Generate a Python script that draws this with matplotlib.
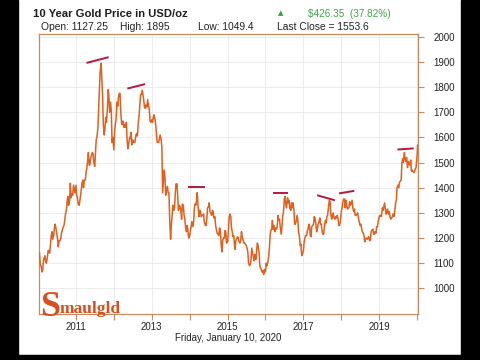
#!/usr/bin/env python3

import pandas as pd
import matplotlib
matplotlib.use("Agg")
import matplotlib.pyplot as plt
from matplotlib.patches import Rectangle

plt.rcParams["font.family"] = ["Liberation Sans", "DejaVu Sans"]

# gold price (USD/oz), four readings a month: days 1, 8, 15, 22
p2010 = [1100, 1135, 1140, 1095, 1085, 1065, 1075, 1110, 1120, 1130, 1105, 1100,
         1125, 1150, 1150, 1140, 1175, 1210, 1225, 1195, 1215, 1240, 1255, 1240,
         1215, 1195, 1165, 1190, 1190, 1200, 1220, 1230, 1245, 1250, 1270, 1295,
         1310, 1345, 1365, 1330, 1350, 1418, 1360, 1375, 1370, 1410, 1395, 1380]
p2011 = [1410, 1370, 1360, 1335, 1330, 1350, 1370, 1395, 1420, 1430, 1400, 1430,
         1430, 1460, 1475, 1500, 1540, 1490, 1490, 1515, 1530, 1540, 1535, 1500,
         1485, 1540, 1590, 1600, 1640, 1720, 1790, 1860, 1895, 1830, 1760, 1650,
         1610, 1640, 1680, 1660, 1720, 1790, 1760, 1700, 1740, 1700, 1580, 1600]
p2012 = [1550, 1620, 1650, 1670, 1740, 1725, 1760, 1775, 1775, 1700, 1660, 1650,
         1665, 1640, 1650, 1640, 1660, 1590, 1555, 1570, 1600, 1595, 1620, 1570,
         1590, 1580, 1580, 1580, 1610, 1615, 1605, 1650, 1690, 1730, 1770, 1770,
         1788, 1770, 1750, 1720, 1715, 1730, 1722, 1750, 1725, 1710, 1665, 1660]
p2013 = [1670, 1660, 1680, 1690, 1670, 1650, 1610, 1580, 1580, 1580, 1595, 1610,
         1590, 1560, 1380, 1420, 1470, 1440, 1370, 1390, 1405, 1380, 1380, 1280,
         1195, 1250, 1285, 1330, 1310, 1320, 1375, 1415, 1415, 1360, 1310, 1330,
         1325, 1310, 1275, 1335, 1330, 1290, 1275, 1245, 1225, 1250, 1230, 1200]
p2014 = [1210, 1230, 1245, 1265, 1245, 1265, 1320, 1335, 1330, 1350, 1380, 1330,
         1285, 1310, 1305, 1285, 1290, 1290, 1295, 1265, 1250, 1250, 1275, 1320,
         1325, 1340, 1305, 1300, 1290, 1310, 1305, 1280, 1285, 1250, 1235, 1220,
         1215, 1210, 1240, 1235, 1170, 1145, 1190, 1200, 1200, 1230, 1225, 1180]
p2015 = [1185, 1220, 1275, 1295, 1285, 1240, 1225, 1205, 1210, 1175, 1155, 1190,
         1200, 1205, 1200, 1185, 1180, 1190, 1225, 1205, 1190, 1180, 1180, 1175,
         1170, 1160, 1145, 1100, 1090, 1095, 1115, 1160, 1135, 1120, 1110, 1135,
         1115, 1150, 1180, 1170, 1140, 1090, 1080, 1075, 1065, 1070, 1055, 1075]
p2016 = [1065, 1100, 1090, 1100, 1125, 1160, 1210, 1230, 1235, 1270, 1235, 1250,
         1225, 1240, 1235, 1240, 1290, 1270, 1275, 1245, 1215, 1245, 1290, 1300,
         1355, 1365, 1335, 1320, 1360, 1340, 1350, 1320, 1310, 1340, 1320, 1340,
         1315, 1255, 1255, 1265, 1290, 1270, 1225, 1210, 1170, 1175, 1130, 1135]
p2017 = [1150, 1185, 1200, 1210, 1210, 1230, 1235, 1255, 1250, 1210, 1205, 1245,
         1250, 1255, 1285, 1280, 1255, 1225, 1235, 1255, 1265, 1280, 1255, 1255,
         1225, 1215, 1215, 1245, 1270, 1260, 1285, 1290, 1330, 1350, 1345, 1295,
         1275, 1290, 1300, 1280, 1275, 1285, 1280, 1290, 1275, 1250, 1250, 1265]
p2018 = [1305, 1320, 1340, 1355, 1355, 1320, 1350, 1330, 1315, 1320, 1320, 1345,
         1330, 1340, 1350, 1320, 1305, 1315, 1290, 1290, 1295, 1300, 1280, 1265,
         1250, 1255, 1240, 1225, 1220, 1210, 1185, 1195, 1200, 1195, 1200, 1205,
         1190, 1190, 1225, 1230, 1235, 1215, 1215, 1225, 1220, 1245, 1245, 1265]
p2019 = [1285, 1290, 1290, 1285, 1320, 1310, 1325, 1340, 1315, 1295, 1300, 1315,
         1295, 1305, 1285, 1275, 1280, 1285, 1295, 1285, 1310, 1340, 1350, 1400,
         1410, 1400, 1420, 1425, 1430, 1500, 1515, 1500, 1540, 1510, 1505, 1520,
         1480, 1505, 1495, 1490, 1510, 1465, 1470, 1465, 1460, 1465, 1475, 1480]
p2020_dates = ["2020-01-01", "2020-01-06", "2020-01-08", "2020-01-10"]
p2020 = [1525, 1570, 1560, 1555]

# resistance marks drawn on the chart
mark_x0 = ["2011-04-22", "2012-05-19", "2013-12-28", "2016-03-25",
           "2017-05-22", "2017-12-20", "2019-07-05"]
mark_x1 = ["2011-11-03", "2012-10-19", "2014-05-22", "2016-07-31",
           "2017-10-23", "2018-04-27", "2019-11-20"]
mark_y0 = [1897, 1795, 1404, 1379, 1369, 1378, 1552]
mark_y1 = [1918, 1811, 1404, 1379, 1351, 1387, 1556]

years = [p2010, p2011, p2012, p2013, p2014, p2015, p2016, p2017, p2018, p2019]
dates = [pd.Timestamp(y, m, d) for y in range(2010, 2020) for m in range(1, 13)
         for d in (1, 8, 15, 22)] + list(pd.to_datetime(p2020_dates))
prices = [v for y in years for v in y] + p2020

orange = "#e0601e"
spine = "#c98a5e"

fig = plt.figure(figsize=(4.8, 3.6), dpi=100)
ax = fig.add_axes([39 / 480, 1 - 314 / 360, 379 / 480, 280 / 360])

ax.plot(dates, prices, color=orange, lw=1.1, zorder=3)
for a, b, c, d in zip(mark_x0, mark_x1, mark_y0, mark_y1):
    ax.plot(pd.to_datetime([a, b]), [c, d], color="#b8173c", lw=1.4, zorder=4)

ax.set_xlim(pd.Timestamp("2010-01-10"), pd.Timestamp("2020-01-10"))
ax.set_ylim(898, 2011)

ax.yaxis.tick_right()
ax.set_yticks(range(1000, 2001, 100))
ax.set_xticks(pd.to_datetime([f"{y}-01-01" for y in range(2011, 2021)]))
ax.set_xticklabels([str(y) if y % 2 == 1 else "" for y in range(2011, 2021)])
ax.tick_params(axis="both", colors=spine, labelcolor="#222222", labelsize=7,
               length=4, width=0.8)
ax.tick_params(axis="y", pad=7)
ax.tick_params(axis="x", pad=2)
ax.grid(True, color="#e9e9e9", lw=0.6)
ax.set_axisbelow(True)
for s in ax.spines.values():
    s.set_color(spine)
    s.set_linewidth(0.9)

ax.text(0.5, -0.086, "Friday, January 10, 2020", transform=ax.transAxes,
        ha="center", va="center", fontsize=7, color="#222222")

# header
def fx(px):
    return px / 480

def fy(py):
    return 1 - py / 360

fig.text(fx(33), fy(14), "10 Year Gold Price in USD/oz", fontsize=8.1,
         fontweight="bold", color="#1e1e1e", va="center")
fig.text(fx(41), fy(27), "Open: 1127.25", fontsize=7.4, color="#222222", va="center")
fig.text(fx(120), fy(27), "High: 1895", fontsize=7.4, color="#222222", va="center")
fig.text(fx(198), fy(27), "Low: 1049.4", fontsize=7.4, color="#222222", va="center")
fig.text(fx(277), fy(27), "Last Close = 1553.6", fontsize=7.4, color="#222222", va="center")
fig.text(fx(281), fy(13.5), "\u25B2", fontsize=5, color="#2e9e3a", ha="center", va="center",
         family=["DejaVu Sans"])
fig.text(fx(308), fy(14), "$426.35  (37.82%)", fontsize=7.2, color="#3aa843", va="center")

# logo
ax.text(fx(40), fy(316), "S", transform=fig.transFigure, fontsize=26, fontweight="bold",
        family=["Liberation Serif"], color="#d84e1c", va="baseline")
ax.text(fx(60), fy(313), "maulgld", transform=fig.transFigure, fontsize=12.5,
        fontweight="bold", family=["Liberation Serif"], color="#d84e1c", va="baseline")

# letterbox edges
for x0, y0, w, h in [(0, 0, 18, 360), (461, 0, 19, 360), (0, 355, 480, 5)]:
    fig.patches.append(Rectangle((fx(x0), fy(y0 + h)), w / 480, h / 360,
                                 transform=fig.transFigure, color="black", zorder=10))

fig.savefig("out.png", dpi=100)
